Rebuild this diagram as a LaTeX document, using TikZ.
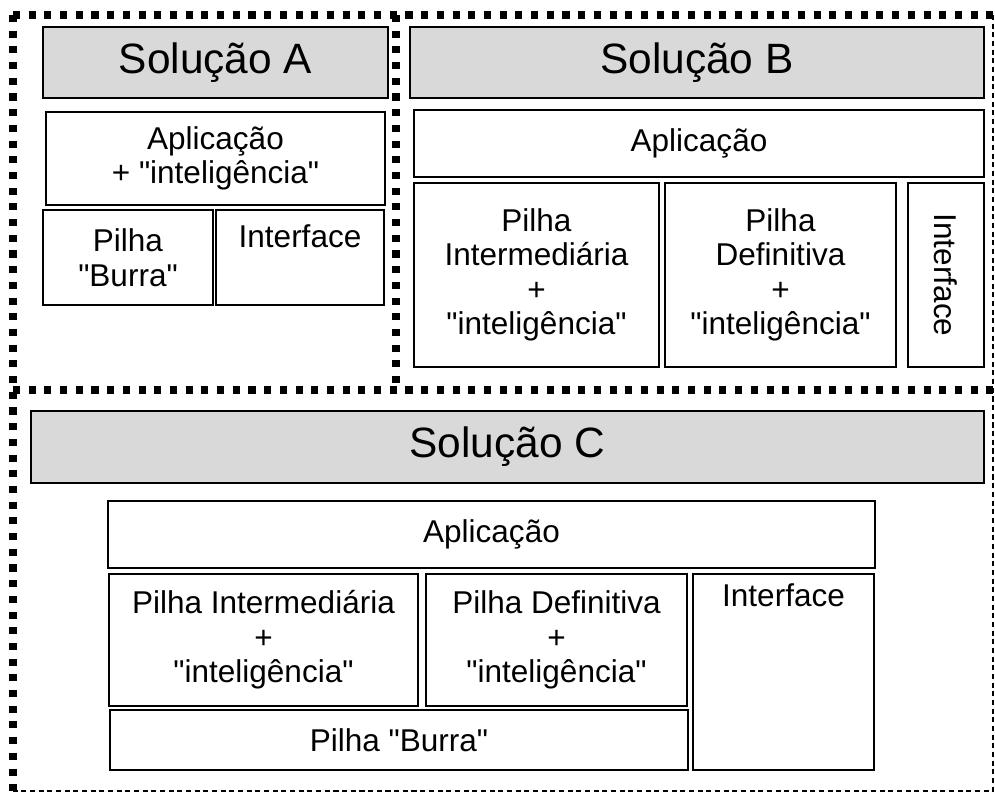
\documentclass[tikz,border=0pt]{standalone}
\usepackage{fontspec}
\setmainfont[Ligatures=TeXOff]{Liberation Sans}
\usetikzlibrary{fit}
\definecolor{cinza}{RGB}{217,217,217}

\tikzset{
	texto/.style={inner sep=0pt, align=center, font=\fontsize{26.9}{29.5}\selectfont},
	caixa/.style={draw=black, line width=1.2pt, inner sep=0pt},
	titulo/.style={caixa, fill=cinza},
	textotitulo/.style={texto, font=\fontsize{36.2}{40}\selectfont},
	pontilhado/.style={line width=6pt, dash pattern=on 6pt off 7.4pt},
	tracejado/.style={line width=1.2pt, dash pattern=on 4.3pt off 3.1pt},
}

\begin{document}
\begin{tikzpicture}[x=0.03cm, y=-0.03cm, every label/.style={texto}]
				\useasboundingbox (0,0) rectangle (995,793);
				
				%%%%% BORDAS %%%%%
				\draw[pontilhado] (13,15) -- (993,15);
				\draw[pontilhado] (13,15) -- (13,791);
				\draw[pontilhado] (396,15) -- (396,390);
				\draw[pontilhado] (13,390) -- (993,390);
				\draw[tracejado] (993,15) -- (993,791) -- (13,791);
				
				%%%%% SOLUCAO A %%%%%
				\node[titulo, fit={(43,27) (388,98)}, label={[textotitulo]center:Solução A}] (titA) {};
				\node[caixa, fit={(46,112) (385,205)}, label={center:Aplicação\\+ "inteligência"}] (aplA) {};
				\node[caixa, fit={(43,210) (213,305)}, label={center:Pilha\\"Burra"}] (pilA) {};
				\node[caixa, fit={(216,210) (384,305)}] (intA) {};
				\node[texto, anchor=base] (intAtxt) at (300,248) {Interface};
				
				%%%%% SOLUCAO B %%%%%
				\node[titulo, fit={(410,27) (984,98)}, label={[textotitulo]center:Solução B}] (titB) {};
				\node[caixa, fit={(414,110) (984,177)}, label={center:Aplicação}] (aplB) {};
				\node[caixa, fit={(414,183) (659,367)}, label={center:Pilha\\Intermediária\\+\\"inteligência"}] (pilIB) {};
				\node[caixa, fit={(665,183) (896,367)}, label={center:Pilha\\Definitiva\\+\\"inteligência"}] (pilDB) {};
				\node[caixa, fit={(908,183) (984,367)}] (intB) {};
				\node[texto, rotate=-90] (intBtxt) at (intB.center) {Interface};
				
				%%%%% SOLUCAO C %%%%%
				\node[titulo, fit={(31,411) (984,483)}, label={[textotitulo]center:Solução C}] (titC) {};
				\node[caixa, fit={(108,501) (875,568)}, label={center:Aplicação}] (aplC) {};
				\node[caixa, fit={(109,574) (418,706)}, label={center:Pilha Intermediária\\+\\"inteligência"}] (pilIC) {};
				\node[caixa, fit={(426,574) (687,706)}, label={center:Pilha Definitiva\\+\\"inteligência"}] (pilDC) {};
				\node[caixa, fit={(693,574) (874,770)}] (intC) {};
				\node[texto, anchor=base] (intCtxt) at (783.5,606) {Interface};
				\node[caixa, fit={(110,710) (688,770)}, label={center:Pilha "Burra"}] (pilC) {};
\end{tikzpicture}
\end{document}
